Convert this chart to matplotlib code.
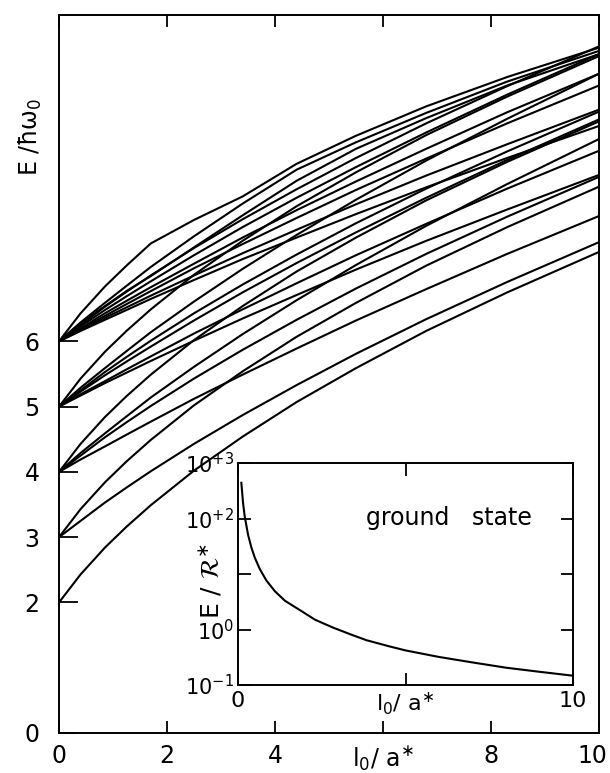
import matplotlib
matplotlib.use("Agg")
import matplotlib.pyplot as plt
from matplotlib.transforms import ScaledTranslation

# ---------------- data ----------------
x_grid = [0, 0.4, 0.85, 1.25, 1.7, 2.5, 3.4, 4.4, 5.5, 6.8, 8.3, 10]

# levels starting at E = 2
lev_2a = [2, 2.43, 2.84, 3.16, 3.49, 4.02, 4.54, 5.07, 5.59, 6.16, 6.75, 7.37]
# levels starting at E = 3
lev_3a = [3, 3.43, 3.84, 4.16, 4.49, 5.02, 5.54, 6.07, 6.59, 7.16, 7.75, 8.37]
lev_3b = [3, 3.25, 3.53, 3.76, 4.01, 4.43, 4.87, 5.33, 5.81, 6.34, 6.91, 7.52]
# levels starting at E = 4
lev_4a = [4, 4.43, 4.84, 5.16, 5.49, 6.02, 6.54, 7.07, 7.59, 8.16, 8.75, 9.37]
lev_4b = [4, 4.25, 4.53, 4.76, 5.01, 5.43, 5.87, 6.33, 6.81, 7.34, 7.91, 8.52]
lev_4c = [4, 4.19, 4.39, 4.57, 4.77, 5.12, 5.49, 5.89, 6.32, 6.80, 7.34, 7.92]
lev_4d = [4, 4.29, 4.59, 4.85, 5.14, 5.61, 6.11, 6.63, 7.17, 7.77, 8.41, 9.10]
# levels starting at E = 5
lev_5a = [5, 5.43, 5.84, 6.16, 6.49, 7.02, 7.54, 8.07, 8.59, 9.16, 9.75, 10.37]
lev_5b = [5, 5.25, 5.53, 5.76, 6.01, 6.43, 6.87, 7.33, 7.81, 8.34, 8.91, 9.52]
lev_5c = [5, 5.19, 5.39, 5.57, 5.77, 6.12, 6.49, 6.89, 7.32, 7.80, 8.34, 8.92]
lev_5d = [5, 5.29, 5.59, 5.85, 6.14, 6.61, 7.11, 7.63, 8.17, 8.77, 9.41, 10.10]
lev_5e = [5, 5.17, 5.36, 5.52, 5.70, 6.01, 6.35, 6.71, 7.10, 7.54, 8.02, 8.55]
lev_5f = [5, 5.23, 5.48, 5.69, 5.92, 6.32, 6.75, 7.20, 7.67, 8.20, 8.78, 9.40]
# levels starting at E = 6
lev_6a = [6, 6.43, 6.84, 7.16, 7.50, 7.86, 8.22, 8.72, 9.15, 9.60, 10.05, 10.50]
lev_6b = [6, 6.29, 6.59, 6.85, 7.14, 7.61, 8.11, 8.63, 9.05, 9.50, 9.98, 10.45]
lev_6c = [6, 6.28, 6.54, 6.77, 7.00, 7.44, 7.93, 8.46, 8.95, 9.42, 9.92, 10.40]
lev_6d = [6, 6.25, 6.53, 6.76, 7.01, 7.43, 7.87, 8.33, 8.81, 9.34, 9.91, 10.52]
lev_6e = [6, 6.19, 6.39, 6.57, 6.77, 7.12, 7.49, 7.89, 8.32, 8.80, 9.34, 9.92]
lev_6f = [6, 6.17, 6.36, 6.52, 6.70, 7.01, 7.35, 7.71, 8.10, 8.54, 9.02, 9.55]
lev_6g = [6, 6.23, 6.48, 6.69, 6.92, 7.32, 7.75, 8.20, 8.67, 9.20, 9.78, 10.40]
lev_6h = [6, 6.16, 6.33, 6.48, 6.65, 6.94, 7.26, 7.59, 7.95, 8.36, 8.81, 9.30]
lev_6i = [6, 6.20, 6.43, 6.62, 6.83, 7.19, 7.59, 8.01, 8.45, 8.95, 9.51, 10.10]

levels = [lev_2a, lev_3a, lev_3b, lev_4a, lev_4b, lev_4c, lev_4d,
          lev_5a, lev_5b, lev_5c, lev_5d, lev_5e, lev_5f,
          lev_6a, lev_6b, lev_6c, lev_6d, lev_6e, lev_6f, lev_6g, lev_6h, lev_6i]

main_xticks = [0, 2, 4, 6, 8, 10]
main_xticklabels = ['0', '2', '4', r'l$_0$/ a$^{\ast}$', '8', '10']
main_yticks = [0, 2, 3, 4, 5, 6]
main_yticklabels = ['0', '2', '3', '4', '5', '6']

# inset: ground state energy in effective Rydbergs
gs_x = [0.1, 0.15, 0.2, 0.3, 0.4, 0.5, 0.65, 0.85, 1.1, 1.4, 1.84, 2.3,
        2.84, 3.4, 3.84, 4.5, 5.0, 6.0, 7.0, 8.0, 9.0, 10.0]
gs_E = [440, 192, 110, 51, 30, 19.8, 12.3, 7.6, 4.9, 3.3, 2.25, 1.5,
        1.08, 0.80, 0.64, 0.50, 0.42, 0.32, 0.255, 0.205, 0.173, 0.147]
ins_yticks = [0.1, 1, 10, 100, 1000]
ins_yticklabels = [r'10$^{-1}$', r'10$^{0}$', '', r'10$^{+2}$', r'10$^{+3}$']
ins_xticks = [0, 5, 10]
ins_xticklabels = ['0', r'l$_0$/ a$^{\ast}$', '10']

# ---------------- figure ----------------
W, H = 610, 773
fig = plt.figure(figsize=(W / 100, H / 100), dpi=100)
plt.rcParams['font.family'] = ['DejaVu Sans']

ax = fig.add_axes([59 / W, (H - 733) / H, 540 / W, 718 / H])
for lv in levels:
    ax.plot(x_grid, lv, color='black', lw=1.5, solid_joinstyle='round')
ax.set_xlim(0, 10)
ax.set_ylim(0, 11)
ax.set_xticks(main_xticks)
ax.set_xticklabels(main_xticklabels, fontsize=17)
ax.set_yticks(main_yticks)
ax.set_yticklabels(main_yticklabels, fontsize=17)
ax.tick_params(axis='x', direction='in', length=8.5, width=1.3, top=True, pad=8)
ax.tick_params(axis='y', direction='in', length=14, width=1.3, pad=14)
for s in ax.spines.values():
    s.set_linewidth(1.4)
last = ax.get_xticklabels()[-1]
last.set_horizontalalignment('right')
last.set_transform(last.get_transform() + ScaledTranslation(8 / 100, 0, fig.dpi_scale_trans))
fig.text(30 / W, 1 - 137 / H, r'E /ħω$_0$', rotation=90, fontsize=17,
         ha='center', va='center')

# inset
ins = fig.add_axes([238 / W, (H - 685) / H, 335 / W, 222 / H])
ins.plot(gs_x, gs_E, color='black', lw=1.5)
ins.set_yscale('log')
ins.set_xlim(0, 10)
ins.set_ylim(0.1, 1000)
ins.set_yticks(ins_yticks)
ins.set_yticklabels(ins_yticklabels, fontsize=15)
ins.yaxis.set_minor_locator(matplotlib.ticker.NullLocator())
ins.set_xticks(ins_xticks)
ins.set_xticklabels(ins_xticklabels, fontsize=16)
ins.tick_params(axis='both', direction='in', length=9, width=1.3,
                top=True, right=True)
ins.tick_params(axis='y', pad=3)
ins.tick_params(axis='x', pad=4)
for s in ins.spines.values():
    s.set_linewidth(1.4)
ins.text(0.63, 0.75, 'ground   state', transform=ins.transAxes, fontsize=17,
         ha='center', va='center')
ins.text(-0.085, 0.47, r'E / $\mathcal{R}^{\ast}$', transform=ins.transAxes,
         rotation=90, fontsize=18, ha='center', va='center')

fig.savefig('out.png', dpi=100)
